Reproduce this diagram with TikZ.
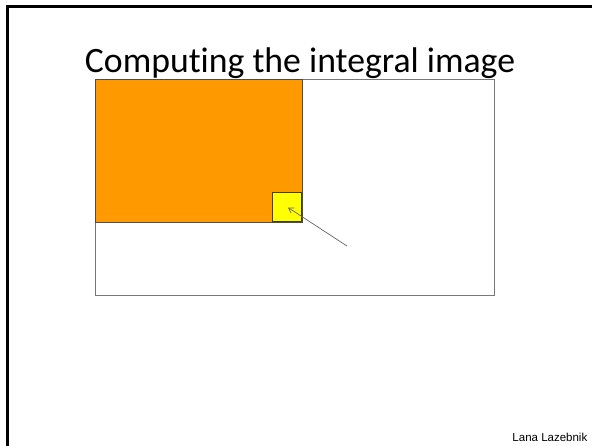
\documentclass[tikz,border=0pt]{standalone}
\usepackage{fontspec}
\setmainfont{Carlito}[Ligatures={NoCommon,NoRare}]
\newfontfamily\arialfont{Liberation Sans}
\usetikzlibrary{arrows.meta}
\definecolor{orng}{HTML}{FF9900}
\definecolor{ylw}{HTML}{FFFF00}
\definecolor{frm}{HTML}{777777}
\tikzset{
  imgbox/.style={draw=frm, line width=1pt},
  sumbox/.style={fill=orng, draw=black!70, line width=0.6pt},
  pixbox/.style={fill=ylw, draw=black!75!ylw, line width=0.8pt},
  ptr/.style={draw=black!60, line width=0.7pt, -{Straight Barb[length=5pt,width=6pt]}},
}
\begin{document}
\begin{tikzpicture}[x=1pt,y=-1pt]
\useasboundingbox (0,0) rectangle (592,445);
\fill[white] (0,0) rectangle (592,445);
% slide frame
\draw[line width=3pt, line cap=rect] (7.5,445) -- (7.5,6.3) -- (592,6.3);
% image
\node[imgbox, minimum width=399pt, minimum height=216pt, inner sep=0pt, anchor=north west] (img) at (95,79) {};
% integral region
\node[sumbox, minimum width=207pt, minimum height=143pt, inner sep=0pt, anchor=north west] (sum) at (95,79) {};
% current pixel
\node[pixbox, minimum width=29pt, minimum height=29pt, inner sep=0pt, anchor=south east] (pix) at (302,222) {};
\coordinate (tail) at (347,246);
\coordinate (head) at (288,207.5);
\draw[ptr] (tail) -- (head);
% title
\node[anchor=base, inner sep=0pt, font=\fontsize{35.7}{40}\selectfont] (title) at (300,72.5) {Computing the integral image};
% credit
\node[anchor=base east, inner sep=0pt, font=\arialfont\fontsize{11.5}{13}\selectfont] (credit) at (587.5,441) {Lana Lazebnik};
\end{tikzpicture}
\end{document}
